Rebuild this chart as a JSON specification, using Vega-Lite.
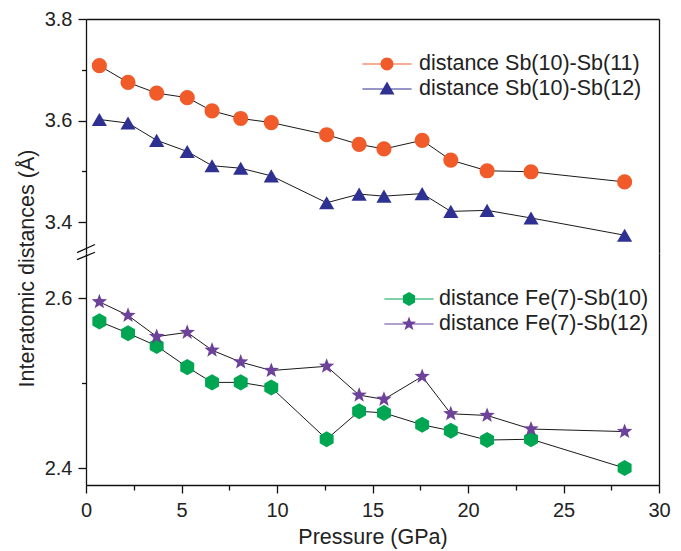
{
  "$schema": "https://vega.github.io/schema/vega-lite/v6.json",
  "background": "white",
  "padding": {"left": 16, "top": 9, "right": 5, "bottom": 5},
  "spacing": 0,
  "bounds": "flush",
  "datasets": {
    "sb": [
      {"series": "distance Sb(10)-Sb(11)", "pressure": 0.7, "distance": 3.708},
      {"series": "distance Sb(10)-Sb(11)", "pressure": 2.2, "distance": 3.675},
      {"series": "distance Sb(10)-Sb(11)", "pressure": 3.7, "distance": 3.654},
      {"series": "distance Sb(10)-Sb(11)", "pressure": 5.3, "distance": 3.645},
      {"series": "distance Sb(10)-Sb(11)", "pressure": 6.6, "distance": 3.619},
      {"series": "distance Sb(10)-Sb(11)", "pressure": 8.1, "distance": 3.604},
      {"series": "distance Sb(10)-Sb(11)", "pressure": 9.7, "distance": 3.596},
      {"series": "distance Sb(10)-Sb(11)", "pressure": 12.6, "distance": 3.572},
      {"series": "distance Sb(10)-Sb(11)", "pressure": 14.3, "distance": 3.553},
      {"series": "distance Sb(10)-Sb(11)", "pressure": 15.6, "distance": 3.544},
      {"series": "distance Sb(10)-Sb(11)", "pressure": 17.6, "distance": 3.561},
      {"series": "distance Sb(10)-Sb(11)", "pressure": 19.1, "distance": 3.522},
      {"series": "distance Sb(10)-Sb(11)", "pressure": 21.0, "distance": 3.501},
      {"series": "distance Sb(10)-Sb(11)", "pressure": 23.3, "distance": 3.499},
      {"series": "distance Sb(10)-Sb(11)", "pressure": 28.2, "distance": 3.479},
      {"series": "distance Sb(10)-Sb(12)", "pressure": 0.7, "distance": 3.602},
      {"series": "distance Sb(10)-Sb(12)", "pressure": 2.2, "distance": 3.595},
      {"series": "distance Sb(10)-Sb(12)", "pressure": 3.7, "distance": 3.561},
      {"series": "distance Sb(10)-Sb(12)", "pressure": 5.3, "distance": 3.539},
      {"series": "distance Sb(10)-Sb(12)", "pressure": 6.6, "distance": 3.511},
      {"series": "distance Sb(10)-Sb(12)", "pressure": 8.1, "distance": 3.506},
      {"series": "distance Sb(10)-Sb(12)", "pressure": 9.7, "distance": 3.491},
      {"series": "distance Sb(10)-Sb(12)", "pressure": 12.6, "distance": 3.438},
      {"series": "distance Sb(10)-Sb(12)", "pressure": 14.3, "distance": 3.455},
      {"series": "distance Sb(10)-Sb(12)", "pressure": 15.6, "distance": 3.451},
      {"series": "distance Sb(10)-Sb(12)", "pressure": 17.6, "distance": 3.456},
      {"series": "distance Sb(10)-Sb(12)", "pressure": 19.1, "distance": 3.421},
      {"series": "distance Sb(10)-Sb(12)", "pressure": 21.0, "distance": 3.423},
      {"series": "distance Sb(10)-Sb(12)", "pressure": 23.3, "distance": 3.408},
      {"series": "distance Sb(10)-Sb(12)", "pressure": 28.2, "distance": 3.374}
    ],
    "fe": [
      {"series": "distance Fe(7)-Sb(10)", "pressure": 0.7, "distance": 2.573},
      {"series": "distance Fe(7)-Sb(10)", "pressure": 2.2, "distance": 2.559},
      {"series": "distance Fe(7)-Sb(10)", "pressure": 3.7, "distance": 2.544},
      {"series": "distance Fe(7)-Sb(10)", "pressure": 5.3, "distance": 2.519},
      {"series": "distance Fe(7)-Sb(10)", "pressure": 6.6, "distance": 2.501},
      {"series": "distance Fe(7)-Sb(10)", "pressure": 8.1, "distance": 2.501},
      {"series": "distance Fe(7)-Sb(10)", "pressure": 9.7, "distance": 2.495},
      {"series": "distance Fe(7)-Sb(10)", "pressure": 12.6, "distance": 2.434},
      {"series": "distance Fe(7)-Sb(10)", "pressure": 14.3, "distance": 2.467},
      {"series": "distance Fe(7)-Sb(10)", "pressure": 15.6, "distance": 2.465},
      {"series": "distance Fe(7)-Sb(10)", "pressure": 17.6, "distance": 2.451},
      {"series": "distance Fe(7)-Sb(10)", "pressure": 19.1, "distance": 2.444},
      {"series": "distance Fe(7)-Sb(10)", "pressure": 21.0, "distance": 2.433},
      {"series": "distance Fe(7)-Sb(10)", "pressure": 23.3, "distance": 2.434},
      {"series": "distance Fe(7)-Sb(10)", "pressure": 28.2, "distance": 2.400},
      {"series": "distance Fe(7)-Sb(12)", "pressure": 0.7, "distance": 2.596},
      {"series": "distance Fe(7)-Sb(12)", "pressure": 2.2, "distance": 2.580},
      {"series": "distance Fe(7)-Sb(12)", "pressure": 3.7, "distance": 2.555},
      {"series": "distance Fe(7)-Sb(12)", "pressure": 5.3, "distance": 2.560},
      {"series": "distance Fe(7)-Sb(12)", "pressure": 6.6, "distance": 2.539},
      {"series": "distance Fe(7)-Sb(12)", "pressure": 8.1, "distance": 2.525},
      {"series": "distance Fe(7)-Sb(12)", "pressure": 9.7, "distance": 2.515},
      {"series": "distance Fe(7)-Sb(12)", "pressure": 12.6, "distance": 2.520},
      {"series": "distance Fe(7)-Sb(12)", "pressure": 14.3, "distance": 2.486},
      {"series": "distance Fe(7)-Sb(12)", "pressure": 15.6, "distance": 2.481},
      {"series": "distance Fe(7)-Sb(12)", "pressure": 17.6, "distance": 2.508},
      {"series": "distance Fe(7)-Sb(12)", "pressure": 19.1, "distance": 2.464},
      {"series": "distance Fe(7)-Sb(12)", "pressure": 21.0, "distance": 2.462},
      {"series": "distance Fe(7)-Sb(12)", "pressure": 23.3, "distance": 2.446},
      {"series": "distance Fe(7)-Sb(12)", "pressure": 28.2, "distance": 2.443}
    ],
    "brk": [
      {"bx": -0.47, "bx2": 0.47, "by": 3.3399, "by2": 3.3557},
      {"bx": -0.47, "bx2": 0.47, "by": 3.3261, "by2": 3.3405}
    ]
  },
  "vconcat": [
    {
      "width": 573,
      "height": 234,
      "layer": [
        {
          "data": {"name": "sb"},
          "mark": {"type": "line", "color": "#1a1a1a", "strokeWidth": 1},
          "encoding": {
            "x": {"field": "pressure", "type": "quantitative", "scale": {"domain": [0, 30], "nice": false},
                  "axis": {"orient": "top", "labels": false, "ticks": false, "title": null}},
            "y": {"field": "distance", "type": "quantitative", "scale": {"domain": [3.339, 3.8], "nice": false, "zero": false},
                  "axis": {"orient": "left", "values": [3.4, 3.5, 3.6, 3.7, 3.8],
                           "labelExpr": "round(datum.value*10) % 2 === 0 ? format(datum.value, '.1f') : ''",
                           "tickSize": {"condition": {"test": "round(datum.value*10) % 2 === 0", "value": 8}, "value": 4.5},
                           "labelPadding": 6, "labelOverlap": false, "labelFlush": false,
                           "title": "Interatomic distances (Å)", "titleY": 249, "titlePadding": 6}},
            "detail": {"field": "series", "type": "nominal"}
          }
        },
        {
          "data": {"name": "sb"},
          "mark": {"type": "point", "filled": true, "opacity": 1, "strokeWidth": 0, "size": 230},
          "encoding": {
            "x": {"field": "pressure", "type": "quantitative"},
            "y": {"field": "distance", "type": "quantitative",
                  "axis": {"orient": "right", "labels": false, "ticks": false, "title": null}},
            "color": {"field": "series", "type": "nominal", "legend": null,
                      "scale": {"domain": ["distance Sb(10)-Sb(11)", "distance Sb(10)-Sb(12)"], "range": ["#F15A29", "#2E3192"]}},
            "shape": {"field": "series", "type": "nominal", "legend": null,
                      "scale": {"domain": ["distance Sb(10)-Sb(11)", "distance Sb(10)-Sb(12)"], "range": ["circle", "triangle-up"]}}
          }
        },
        {
          "data": {"name": "sb"},
          "transform": [{"filter": "false"}],
          "mark": {"type": "point", "filled": true, "opacity": 1, "strokeWidth": 0},
          "encoding": {
            "x": {"field": "pressure", "type": "quantitative"},
            "y": {"field": "distance", "type": "quantitative", "axis": null},
            "color": {"field": "series", "type": "nominal",
                      "scale": {"domain": ["distance Sb(10)-Sb(11)", "distance Sb(10)-Sb(12)"], "range": ["#F15A29", "#2E3192"]},
                      "legend": {"title": null, "orient": "none", "legendX": 289, "legendY": 33,
                                 "labelFontSize": 21.5, "labelColor": "#222", "symbolSize": 576, "labelOffset": 20,
                                 "rowPadding": 2, "padding": 0, "symbolStrokeWidth": 0, "labelLimit": 400}},
            "shape": {"field": "series", "type": "nominal",
                      "scale": {"domain": ["distance Sb(10)-Sb(11)", "distance Sb(10)-Sb(12)"],
                                "range": ["M-2.05,-0.045H-0.3V0.045H-2.05ZM0.3,-0.045H2.05V0.045H0.3ZM-0.54,0A0.54,0.54 0 1,1 0.54,0A0.54,0.54 0 1,1 -0.54,0Z",
                                          "M-2.05,-0.045H-0.3V0.045H-2.05ZM0.3,-0.045H2.05V0.045H0.3ZM0,-0.62L0.625,0.46L-0.625,0.46Z"]},
                      "legend": {"title": null, "orient": "none", "legendX": 289, "legendY": 33,
                                 "labelFontSize": 21.5, "labelColor": "#222", "symbolSize": 576, "labelOffset": 20,
                                 "rowPadding": 2, "padding": 0, "symbolStrokeWidth": 0, "labelLimit": 400}}
          }
        },
        {
          "data": {"name": "brk"},
          "mark": {"type": "rule", "color": "#111", "strokeWidth": 1.3},
          "encoding": {
            "x": {"field": "bx", "type": "quantitative"},
            "x2": {"field": "bx2"},
            "y": {"field": "by", "type": "quantitative", "axis": null},
            "y2": {"field": "by2"}
          }
        }
      ],
      "resolve": {"scale": {"color": "independent", "shape": "independent"}, "axis": {"y": "independent"}}
    },
    {
      "width": 573,
      "height": 232,
      "layer": [
        {
          "data": {"name": "fe"},
          "mark": {"type": "line", "color": "#1a1a1a", "strokeWidth": 1},
          "encoding": {
            "x": {"field": "pressure", "type": "quantitative", "scale": {"domain": [0, 30], "nice": false},
                  "axis": {"orient": "bottom", "values": [0, 2.5, 5, 7.5, 10, 12.5, 15, 17.5, 20, 22.5, 25, 27.5, 30],
                           "labelExpr": "datum.value % 5 === 0 ? format(datum.value, 'd') : ''",
                           "tickSize": {"condition": {"test": "datum.value % 5 === 0", "value": 8}, "value": 5},
                           "labelPadding": 7, "labelOverlap": false, "labelFlush": false,
                           "title": "Pressure (GPa)", "titlePadding": 6, "titleFontSize": 21.5}},
            "y": {"field": "distance", "type": "quantitative", "scale": {"domain": [2.38, 2.6536], "nice": false, "zero": false},
                  "axis": {"orient": "left", "values": [2.4, 2.5, 2.6],
                           "labelExpr": "round(datum.value*10) % 2 === 0 ? format(datum.value, '.1f') : ''",
                           "tickSize": {"condition": {"test": "round(datum.value*10) % 2 === 0", "value": 8}, "value": 4.5},
                           "labelPadding": 6, "labelOverlap": false, "labelFlush": false, "title": null}},
            "detail": {"field": "series", "type": "nominal"}
          }
        },
        {
          "data": {"name": "fe"},
          "mark": {"type": "point", "filled": true, "opacity": 1, "strokeWidth": 0, "size": 260},
          "encoding": {
            "x": {"field": "pressure", "type": "quantitative"},
            "y": {"field": "distance", "type": "quantitative",
                  "axis": {"orient": "right", "labels": false, "ticks": false, "title": null}},
            "color": {"field": "series", "type": "nominal", "legend": null,
                      "scale": {"domain": ["distance Fe(7)-Sb(10)", "distance Fe(7)-Sb(12)"], "range": ["#00A651", "#6D429B"]}},
            "shape": {"field": "series", "type": "nominal", "legend": null,
                      "scale": {"domain": ["distance Fe(7)-Sb(10)", "distance Fe(7)-Sb(12)"],
                                "range": ["M0,-1L0.866,-0.5L0.866,0.5L0,1L-0.866,0.5L-0.866,-0.5Z",
                                          "M0,-1L0.247,-0.34L0.951,-0.309L0.399,0.13L0.588,0.809L0,0.42L-0.588,0.809L-0.399,0.13L-0.951,-0.309L-0.247,-0.34Z"]}}
          }
        },
        {
          "data": {"name": "fe"},
          "transform": [{"filter": "false"}],
          "mark": {"type": "point", "filled": true, "opacity": 1, "strokeWidth": 0},
          "encoding": {
            "x": {"field": "pressure", "type": "quantitative"},
            "y": {"field": "distance", "type": "quantitative", "axis": null},
            "color": {"field": "series", "type": "nominal",
                      "scale": {"domain": ["distance Fe(7)-Sb(10)", "distance Fe(7)-Sb(12)"], "range": ["#00A651", "#6D429B"]},
                      "legend": {"title": null, "orient": "none", "legendX": 311, "legendY": 34,
                                 "labelFontSize": 21.5, "labelColor": "#222", "symbolSize": 576, "labelOffset": 18,
                                 "rowPadding": 2, "padding": 0, "symbolStrokeWidth": 0, "labelLimit": 400}},
            "shape": {"field": "series", "type": "nominal",
                      "scale": {"domain": ["distance Fe(7)-Sb(10)", "distance Fe(7)-Sb(12)"],
                                "range": ["M-2.05,-0.045H-0.3V0.045H-2.05ZM0.3,-0.045H2.05V0.045H0.3ZM0,-0.583L0.505,-0.292L0.505,0.292L0,0.583L-0.505,0.292L-0.505,-0.292Z",
                                          "M-2.05,-0.045H-0.3V0.045H-2.05ZM0.3,-0.045H2.05V0.045H0.3ZM0,-0.625L0.154,-0.213L0.594,-0.193L0.249,0.081L0.368,0.506L0,0.263L-0.368,0.506L-0.249,0.081L-0.594,-0.193L-0.154,-0.213Z"]},
                      "legend": {"title": null, "orient": "none", "legendX": 311, "legendY": 34,
                                 "labelFontSize": 21.5, "labelColor": "#222", "symbolSize": 576, "labelOffset": 18,
                                 "rowPadding": 2, "padding": 0, "symbolStrokeWidth": 0, "labelLimit": 400}}
          }
        }
      ],
      "resolve": {"scale": {"color": "independent", "shape": "independent"}, "axis": {"y": "independent"}}
    }
  ],
  "resolve": {
    "scale": {"color": "independent", "shape": "independent", "x": "independent", "y": "independent"},
    "legend": {"color": "independent", "shape": "independent"}
  },
  "config": {
    "view": {"stroke": null},
    "font": "Liberation Sans",
    "axis": {
      "domainColor": "#111", "domainWidth": 1.3, "tickColor": "#111", "tickWidth": 1.3,
      "labelFont": "Liberation Sans", "labelFontSize": 20, "labelColor": "#222",
      "titleFont": "Liberation Sans", "titleFontSize": 21.5, "titleFontWeight": "normal", "titleColor": "#222",
      "grid": false
    },
    "legend": {"labelFont": "Liberation Sans"}
  }
}
